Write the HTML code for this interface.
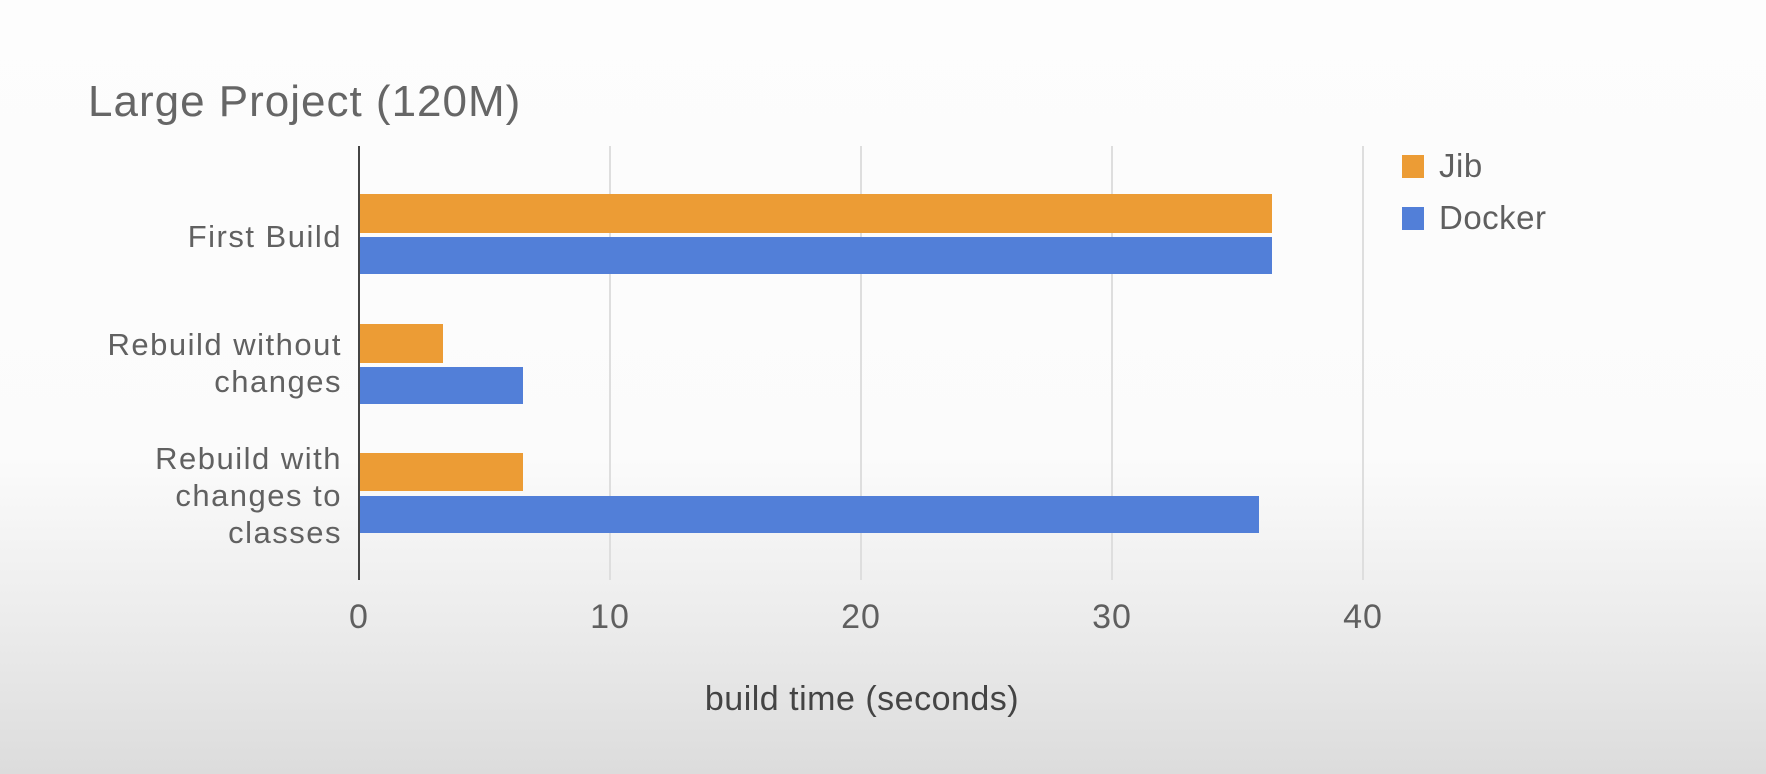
<!DOCTYPE html>
<html><head><style>
html,body{margin:0;padding:0}
body{width:1766px;height:774px;position:relative;overflow:hidden;
background:linear-gradient(to bottom,#fdfdfd 0px,#fbfbfb 460px,#ececec 620px,#dcdcdc 774px);
font-family:"Liberation Sans",sans-serif;color:#5f5f5f}
.t{position:absolute;white-space:nowrap}
.g{position:absolute;top:146px;height:434px;width:2px;background:#dedede}
.b{position:absolute;left:360px}
.o{background:#ec9c35}
.u{background:#527fd8}
.lab{position:absolute;right:1424px;text-align:right;font-size:31px;letter-spacing:1.5px;line-height:37px;color:#616161;white-space:nowrap}
.tick{position:absolute;top:598px;font-size:34px;letter-spacing:1px;width:80px;margin-left:-40px;text-align:center}
</style></head><body>
<div class="t" style="left:88px;top:77px;font-size:44px;letter-spacing:1px;color:#666">Large Project (120M)</div>
<div class="g" style="left:609px"></div>
<div class="g" style="left:860px"></div>
<div class="g" style="left:1111px"></div>
<div class="g" style="left:1362px"></div>
<div style="position:absolute;left:358px;top:146px;width:2px;height:434px;background:#444"></div>

<div class="b o" style="top:194px;height:39px;width:912px"></div>
<div class="b u" style="top:237px;height:37px;width:912px"></div>
<div class="b o" style="top:324px;height:39px;width:83px"></div>
<div class="b u" style="top:367px;height:37px;width:163px"></div>
<div class="b o" style="top:453px;height:38px;width:163px"></div>
<div class="b u" style="top:496px;height:37px;width:899px"></div>

<div class="lab" style="top:218px">First Build</div>
<div class="lab" style="top:326px">Rebuild without<br>changes</div>
<div class="lab" style="top:440px">Rebuild with<br>changes to<br>classes</div>

<div class="tick" style="left:359px">0</div>
<div class="tick" style="left:610px">10</div>
<div class="tick" style="left:861px">20</div>
<div class="tick" style="left:1112px">30</div>
<div class="tick" style="left:1363px">40</div>

<div class="t" style="left:862px;top:680px;transform:translateX(-50%);font-size:34px;letter-spacing:0.5px;color:#444">build time (seconds)</div>

<div style="position:absolute;left:1402px;top:155px;width:22px;height:23px;background:#ec9c35"></div>
<div class="t" style="left:1439px;top:147px;font-size:33px;letter-spacing:0.5px">Jib</div>
<div style="position:absolute;left:1402px;top:207px;width:22px;height:23px;background:#527fd8"></div>
<div class="t" style="left:1439px;top:199px;font-size:33px;letter-spacing:0.5px">Docker</div>
</body></html>
